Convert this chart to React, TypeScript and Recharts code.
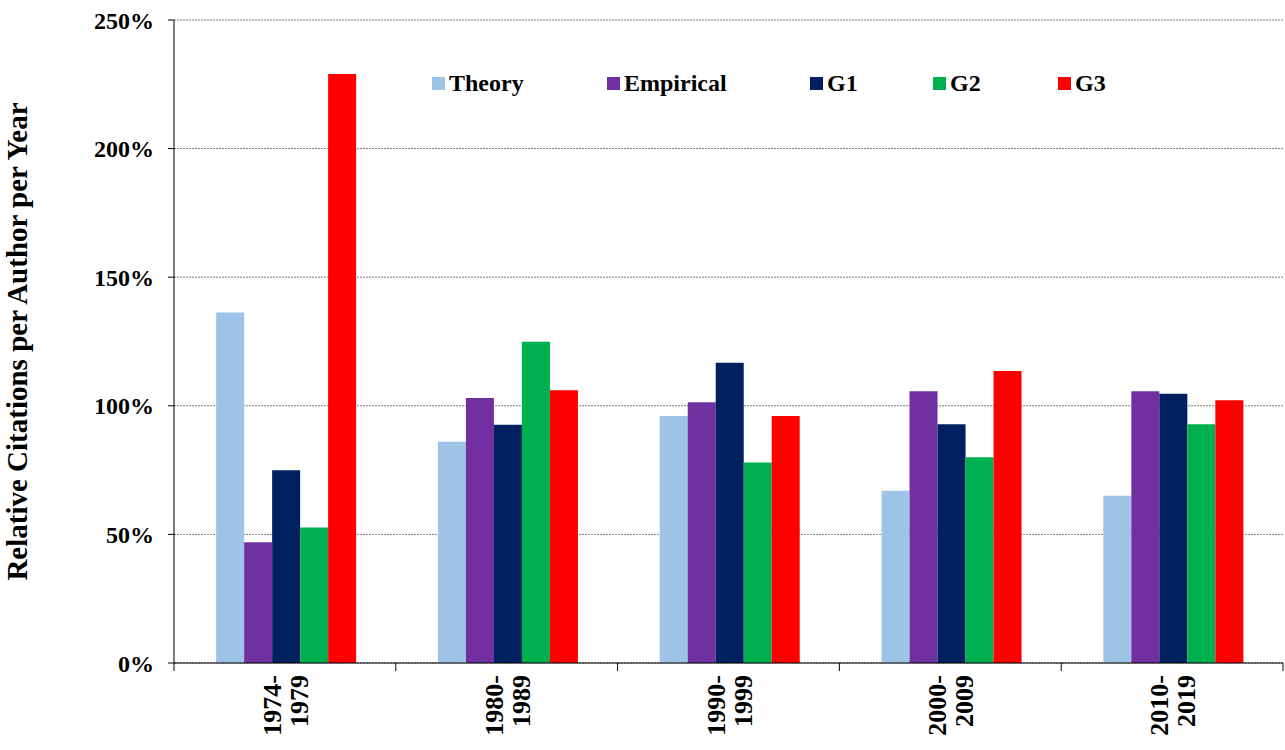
import { BarChart, Bar, XAxis, YAxis, CartesianGrid, Legend } from 'recharts'

const periods = ['1974-\n1979', '1980-\n1989', '1990-\n1999', '2000-\n2009', '2010-\n2019']
const theory = [136.3, 86, 96, 67, 65]
const empirical = [46.9, 103, 101.4, 105.7, 105.7]
const g1 = [74.9, 92.6, 116.7, 92.8, 104.7]
const g2 = [52.7, 124.9, 78, 80, 92.8]
const g3 = [229, 106, 96, 113.5, 102.2]
const yTicks = [0, 50, 100, 150, 200, 250]

const series = [
  { key: 'theory', name: 'Theory', color: '#9DC3E6' },
  { key: 'empirical', name: 'Empirical', color: '#7030A0' },
  { key: 'g1', name: 'G1', color: '#002060' },
  { key: 'g2', name: 'G2', color: '#00B050' },
  { key: 'g3', name: 'G3', color: '#FF0000' },
]

const data = periods.map((p, i) => ({
  period: p,
  theory: theory[i],
  empirical: empirical[i],
  g1: g1[i],
  g2: g2[i],
  g3: g3[i],
}))

const FONT = '"Liberation Serif", "Times New Roman", serif'
const legendX = [432, 607, 810, 933, 1058]

const XTick = (props: any) => {
  const { x, y, payload, index } = props
  const [a, b] = String(payload.value).split('\n')
  const half = 1109 / 5 / 2
  return (
    <g>
      <line x1={x - half} y1={y - 8} x2={x - half} y2={y} stroke="#000" />
      {index === periods.length - 1 && <line x1={x + half} y1={y - 8} x2={x + half} y2={y} stroke="#000" />}
      <text transform={`translate(${x},${y + 4}) rotate(-90)`} textAnchor="end" fontFamily={FONT} fontWeight="bold" fontSize={26} fill="#000">
        <tspan x={0} dy={-4}>{a}</tspan>
        <tspan x={0} dy={27}>{b}</tspan>
      </text>
    </g>
  )
}

const LegendBox = () => (
  <div style={{ position: 'relative', fontFamily: FONT, fontWeight: 'bold', fontSize: 24, height: 0 }}>
    {series.map((s, i) => (
      <div key={s.key} style={{ position: 'absolute', left: legendX[i], top: 0, display: 'flex', alignItems: 'center', whiteSpace: 'nowrap' }}>
        <span style={{ width: 13, height: 13, background: s.color, display: 'inline-block', marginRight: 4 }} />
        {s.name}
      </div>
    ))}
  </div>
)

export default function App() {
  return (
    <div style={{ position: 'absolute', left: 0, top: 0, background: '#fff' }}>
      <BarChart width={1285} height={750} data={data} margin={{ top: 20, right: 2, left: 0, bottom: 0 }} barCategoryGap="19%" barGap={0}>
        <CartesianGrid vertical={false} stroke="#777" strokeDasharray="2 1" />
        <XAxis dataKey="period" height={87} stroke="#000" tickLine={false} tick={<XTick />} interval={0} />
        <YAxis
          width={174}
          domain={[0, 250]}
          ticks={yTicks}
          stroke="#000"
          tickSize={6}
          tickFormatter={(v: number) => `${v}%`}
          tick={{ fontFamily: FONT, fontWeight: 'bold', fontSize: 24, fill: '#000', dx: -12 }}
          label={{ value: 'Relative Citations per Author per Year', angle: -90, position: 'insideLeft', dx: 12, dy: 0, style: { textAnchor: 'middle', fontFamily: FONT, fontWeight: 'bold', fontSize: 29, fill: '#000' } }}
        />
        <Legend content={<LegendBox />} height={0} wrapperStyle={{ position: 'absolute', left: 0, top: 70, width: 1285, height: 0 }} />
        {series.map((s) => (
          <Bar key={s.key} dataKey={s.key} name={s.name} fill={s.color} isAnimationActive={false} />
        ))}
      </BarChart>
    </div>
  )
}
